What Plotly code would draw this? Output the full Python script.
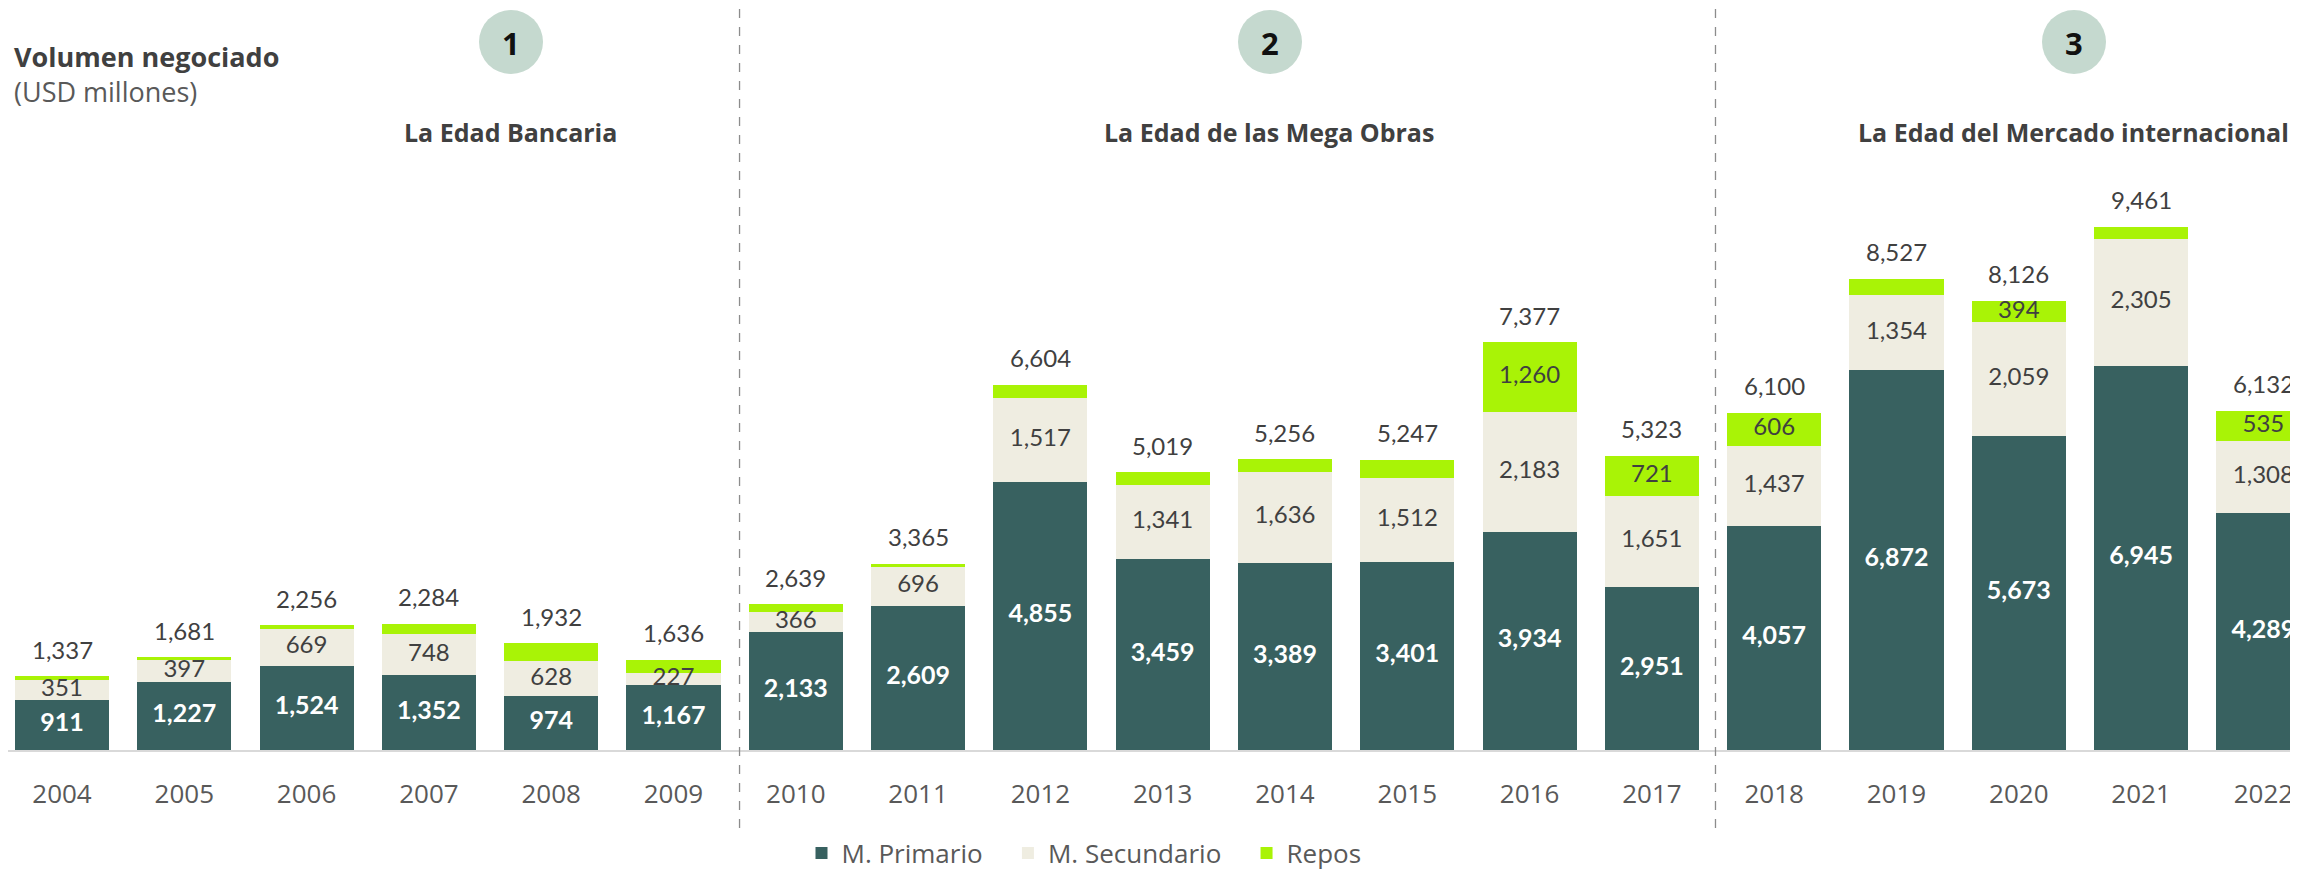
import plotly.graph_objects as go

years = ["2004", "2005", "2006", "2007", "2008", "2009", "2010", "2011", "2012", "2013",
         "2014", "2015", "2016", "2017", "2018", "2019", "2020", "2021", "2022"]
primario = [911, 1227, 1524, 1352, 974, 1167, 2133, 2609, 4855, 3459,
            3389, 3401, 3934, 2951, 4057, 6872, 5673, 6945, 4289]
secundario = [351, 397, 669, 748, 628, 227, 366, 696, 1517, 1341,
              1636, 1512, 2183, 1651, 1437, 1354, 2059, 2305, 1308]
totales = [1337, 1681, 2256, 2284, 1932, 1636, 2639, 3365, 6604, 5019,
           5256, 5247, 7377, 5323, 6100, 8527, 8126, 9461, 6132]
repos = [t - p - s for t, p, s in zip(totales, primario, secundario)]

etapas = ["1", "2", "3"]
etapa_titulos = ["La Edad Bancaria", "La Edad de las Mega Obras", "La Edad del Mercado internacional"]
divisiones = [5.54, 13.52]
series_names = ["M. Primario\u00a0\u00a0\u00a0", "M. Secundario\u00a0\u00a0\u00a0", "Repos"]

# page body has an 8px margin: draw the figure 8px smaller and map reference pixels
OFF = 8
W, H = 2298 - OFF, 875 - OFF
BASE = 750 - OFF  # baseline in figure px

C_PRIM = "#386160"
C_SEC = "#efede1"
C_REPO = "#a9f306"
FONT = "Open Sans"
NUMF = "Lato"

def px(xr):
    return (xr - OFF) / W

def py(yr):
    return (BASE - (yr - OFF)) / BASE

x = list(range(len(years)))
BW = 0.77

fig = go.Figure()
fig.add_trace(go.Bar(x=x, y=primario, name=series_names[0], marker=dict(color=C_PRIM, line=dict(width=0)), width=BW))
fig.add_trace(go.Bar(x=x, y=secundario, name=series_names[1], marker=dict(color=C_SEC, line=dict(width=0)), width=BW))
fig.add_trace(go.Bar(x=x, y=repos, name=series_names[2], marker=dict(color=C_REPO, line=dict(width=0)), width=BW))

fig.add_trace(go.Scatter(
    x=x, y=[p / 2 for p in primario], mode="text", cliponaxis=False,
    text=[f"{v:,}" for v in primario], textposition="middle center",
    textfont=dict(family=NUMF, size=25, color="white", weight="bold"),
    showlegend=False, hoverinfo="skip"))
fig.add_trace(go.Scatter(
    x=x, y=[p + s / 2 for p, s in zip(primario, secundario)], mode="text", cliponaxis=False,
    text=[f"{v:,}" for v in secundario], textposition="middle center",
    textfont=dict(family=NUMF, size=24, color="#404040"),
    showlegend=False, hoverinfo="skip"))
rx, ry, rt = [], [], []
for i, (p, s, r) in enumerate(zip(primario, secundario, repos)):
    if r >= 350:
        rx.append(i); ry.append(p + s + r / 2); rt.append(f"{r:,}")
fig.add_trace(go.Scatter(
    x=rx, y=ry, mode="text", text=rt, textposition="middle center", cliponaxis=False,
    textfont=dict(family=NUMF, size=24, color="#404040"),
    showlegend=False, hoverinfo="skip"))

annotations = []
for i, t in enumerate(totales):
    annotations.append(dict(x=i, y=t, xref="x", yref="y", text=f"{t:,}", showarrow=False,
                            yanchor="middle", yshift=27,
                            font=dict(family=NUMF, size=24, color="#404040")))

annotations.append(dict(x=px(12), y=py(57), xref="paper", yref="paper", text="<b>Volumen negociado</b>",
                        showarrow=False, xanchor="left", yanchor="middle",
                        font=dict(family=FONT, size=27, color="#404040")))
annotations.append(dict(x=px(12), y=py(92), xref="paper", yref="paper", text="(USD millones)",
                        showarrow=False, xanchor="left", yanchor="middle",
                        font=dict(family=FONT, size=27, color="#595959")))

shapes = []
circle_x = [511, 1270, 2074]
title_x = [510, 1269, 2073]
for cx, tx, num, ttl in zip(circle_x, title_x, etapas, etapa_titulos):
    shapes.append(dict(type="circle", xref="paper", yref="paper",
                       x0=px(cx - 32), x1=px(cx + 32), y0=py(42 + 32), y1=py(42 - 32),
                       fillcolor="#c5d9cf", line=dict(width=0), layer="below"))
    annotations.append(dict(x=px(cx), y=py(43), xref="paper", yref="paper", text=f"<b>{num}</b>",
                            showarrow=False, xanchor="center", yanchor="middle",
                            font=dict(family=FONT, size=31, color="#111111")))
    annotations.append(dict(x=px(tx), y=py(132), xref="paper", yref="paper", text=f"<b>{ttl}</b>",
                            showarrow=False, xanchor="center", yanchor="middle",
                            font=dict(family=FONT, size=25, color="#404040")))

for d in divisiones:
    shapes.append(dict(type="line", xref="x", yref="paper", x0=d, x1=d, y0=py(828), y1=1.0,
                       line=dict(color="#8c8c8c", width=1.3, dash="dash")))

fig.update_layout(
    width=W, height=H,
    barmode="stack",
    margin=dict(l=0, r=0, t=0, b=H - BASE, autoexpand=False),
    paper_bgcolor="white", plot_bgcolor="white",
    font=dict(family=FONT, color="#595959"),
    showlegend=True,
    legend=dict(orientation="h", x=px(1084), y=py(853), xanchor="center", yanchor="middle",
                font=dict(family=FONT, size=26, color="#595959"), traceorder="normal"),
    annotations=annotations, shapes=shapes,
    xaxis=dict(range=[-0.4415, 18.283], tickmode="array", tickvals=x, ticktext=years,
               showgrid=False, zeroline=False, showline=True, linecolor="#d9d9d9", linewidth=2,
               ticks="", ticklabelstandoff=20,
               tickfont=dict(family=FONT, size=26, color="#595959")),
    yaxis=dict(range=[0, BASE * 18.085], visible=False, showgrid=False, zeroline=False),
)

fig.write_html("out.html")
